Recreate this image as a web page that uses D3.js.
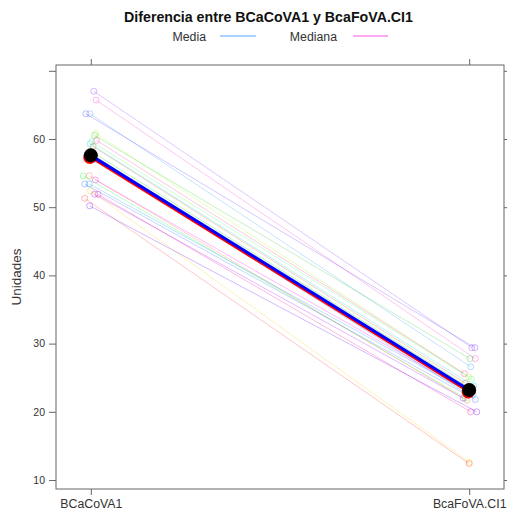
<!DOCTYPE html>
<html><head><meta charset="utf-8">
<script src="https://cdn.jsdelivr.net/npm/d3@7"></script>
<style>body{margin:0;background:#fff}svg{display:block}text{font-family:"Liberation Sans",Arial,sans-serif}</style>
</head><body><svg id="c" width="507" height="514"></svg>
<script>
const categories = ["BCaCoVA1", "BcaFoVA.CI1"];
const yTicks = [10, 20, 30, 40, 50, 60, 70];
const yTickLabels = ["10", "20", "30", "40", "50", "60", ""];
const leftVals  = [67.0, 65.7, 63.7, 63.7, 60.8, 60.5, 59.8, 59.6, 59.3, 58.9, 58.2, 57.0, 54.6, 54.6, 53.4, 53.4, 52.4, 51.9, 51.9, 51.3, 50.2, 54.0];
const rightVals = [29.4, 27.8, 29.4, 26.6, 25.1, 27.8, 25.6, 24.8, 23.8, 24.2, 23.5, 22.6, 22.0, 21.7, 21.8, 22.5, 12.6, 22.0, 20.0, 12.4, 20.0, 23.0];
const leftJitter  = [0.008, 0.014, -0.013, -0.002, 0.013, 0.010, 0.015, 0.003, -0.002, 0.006, 0.000, 0.010, -0.020, -0.004, -0.016, -0.004, -0.001, 0.010, 0.019, -0.016, -0.003, 0.012];
const rightJitter = [0.007, 0.016, 0.015, 0.004, -0.001, 0.002, -0.013, 0.006, 0.012, -0.010, 0.001, -0.005, -0.010, -0.006, 0.016, 0.010, 0.000, -0.016, 0.004, 0.000, 0.020, -0.004];
const subjectColors = ["#9933ff", "#ff33cc", "#6633ff", "#3399ff", "#99ff00", "#33cc33", "#ff3399", "#33ff66", "#00ccff", "#cc6600", "#00cc00", "#0066ff", "#00ff33", "#ff6633", "#3366ff", "#0099ff", "#ffcc00", "#9900ff", "#ff0099", "#ff3333", "#6600ff", "#ff00ff"];
const meanVals = [57.6, 23.2];
const medianVals = [57.3, 22.9];
const title = "Diferencia entre BCaCoVA1 y BcaFoVA.CI1";
const yLabel = "Unidades";
const legendItems = ["Media", "Mediana"];
const legendColors = ["#8fc4ff", "#ff8cf0"];

const svg = d3.select("#c");
const L = 56, R = 504, T = 65, B = 489;
const x = d3.scaleLinear().domain([0.908, 2.092]).range([L, R]);
const y = d3.scaleLinear().domain([8.68, 70.85]).range([B, T]);
const axisCol = "#666";
const ff = '"Liberation Sans",Arial,sans-serif';

// title
svg.append("text").attr("x", 268.5).attr("y", 22).attr("text-anchor", "middle")
  .attr("font-size", 14.2).attr("font-weight", "bold").attr("fill", "#111").text(title);
// legend
const lx = [[206, 220, 256], [337, 353, 388]];
legendItems.forEach((t, i) => {
  svg.append("text").attr("x", lx[i][0]).attr("y", 40.5).attr("text-anchor", "end")
    .attr("font-size", 12.3).attr("fill", "#333").text(t);
  svg.append("line").attr("x1", lx[i][1]).attr("x2", lx[i][2]).attr("y1", 36).attr("y2", 36)
    .attr("stroke", legendColors[i]).attr("stroke-width", 1.3);
});

// axes
const yAxL = d3.axisLeft(y).tickValues(yTicks).tickSize(7).tickPadding(4)
  .tickFormat((d, i) => yTickLabels[i]);
const gL = svg.append("g").attr("transform", `translate(${L},0)`).call(yAxL);
const yAxR = d3.axisRight(y).tickValues(yTicks).tickSize(7).tickFormat("");
const gR = svg.append("g").attr("transform", `translate(${R},0)`).call(yAxR);
const xAxB = d3.axisBottom(x).tickValues([1, 2]).tickSize(6).tickPadding(4)
  .tickFormat((d, i) => categories[i]);
const gB = svg.append("g").attr("transform", `translate(0,${B})`).call(xAxB);
const xAxT = d3.axisTop(x).tickValues([1, 2]).tickSize(6).tickFormat("");
const gT = svg.append("g").attr("transform", `translate(0,${T})`).call(xAxT);
[gL, gR, gB, gT].forEach(g => {
  g.select(".domain").remove();
  g.selectAll("line").attr("stroke", axisCol);
  g.selectAll("text").attr("fill", "#333").attr("font-family", ff);
});
gL.selectAll("text").attr("font-size", 10.5);
gB.selectAll("text").attr("font-size", 12.3);
svg.append("rect").attr("x", L).attr("y", T).attr("width", R - L).attr("height", B - T)
  .attr("fill", "none").attr("stroke", axisCol).attr("stroke-width", 1);

// y label
svg.append("text").attr("transform", `translate(21,${(T + B) / 2}) rotate(-90)`)
  .attr("text-anchor", "middle").attr("font-size", 13.5).attr("fill", "#333").text(yLabel);

// subject lines
const plot = svg.append("g");
leftVals.forEach((lv, i) => {
  const c = subjectColors[i];
  const x1 = x(1 + leftJitter[i]), y1 = y(lv), x2 = x(2 + rightJitter[i]), y2 = y(rightVals[i]);
  plot.append("line").attr("x1", x1).attr("y1", y1).attr("x2", x2).attr("y2", y2)
    .attr("stroke", c).attr("stroke-opacity", 0.28).attr("stroke-width", 1);
  [[x1, y1], [x2, y2]].forEach(p => plot.append("circle").attr("cx", p[0]).attr("cy", p[1]).attr("r", 3)
    .attr("fill", "none").attr("stroke", c).attr("stroke-opacity", 0.35).attr("stroke-width", 1));
});

// median
plot.append("line").attr("x1", x(1)).attr("y1", y(medianVals[0])).attr("x2", x(2)).attr("y2", y(medianVals[1]))
  .attr("stroke", "#ff0000").attr("stroke-width", 2.5);
medianVals.forEach((v, i) => plot.append("circle").attr("cx", x(i + 1) - 1).attr("cy", y(v))
  .attr("r", 6.5).attr("fill", "#ff0000"));
// mean
plot.append("line").attr("x1", x(1)).attr("y1", y(meanVals[0])).attr("x2", x(2)).attr("y2", y(meanVals[1]))
  .attr("stroke", "#0000ff").attr("stroke-width", 3);
meanVals.forEach((v, i) => plot.append("circle").attr("cx", x(i + 1)).attr("cy", y(v))
  .attr("r", 7).attr("fill", "#000"));
</script></body></html>
